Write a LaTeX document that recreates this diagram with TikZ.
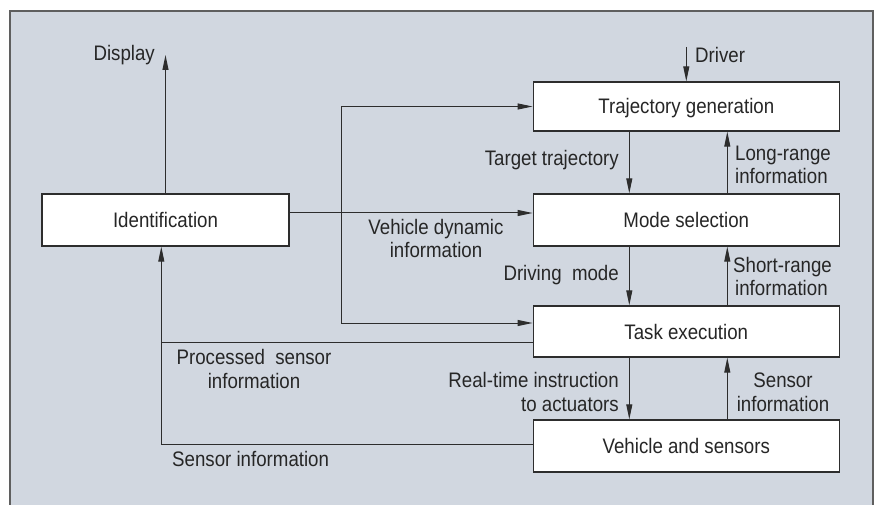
\documentclass[tikz,border=0pt]{standalone}
\usepackage{fontspec}
\setmainfont{Liberation Sans}[FakeStretch=0.89]
\usetikzlibrary{arrows.meta}
\definecolor{bg}{RGB}{209,215,224}
\definecolor{ln}{RGB}{45,45,45}
\definecolor{tx}{RGB}{38,38,38}
\definecolor{fr}{RGB}{95,95,95}
\begin{document}
\begin{tikzpicture}[x=1pt,y=-1pt,
  font=\fontsize{21}{23.4}\selectfont,
  box/.style={draw=ln, line width=1.4pt, fill=white, minimum width=306pt,
    minimum height=51pt, inner sep=0pt, text=tx, text height=15pt, text depth=0pt},
  lbl/.style={inner sep=0pt, text=tx},
  conn/.style={draw=ln, line width=1pt},
  arr/.style={conn, -{Triangle[length=15pt,width=6pt]}}]
\useasboundingbox (0,0) rectangle (876,505);
\fill[white] (0,0) rectangle (876,505);
\fill[bg] (10,11) rectangle (873,506);
\draw[fr, line width=1.3pt] (10,506) -- (10,11) -- (873,11) -- (873,506);

% boxes
\node[box, minimum width=247pt, minimum height=52pt] (ident) at (165.5,220) {Identification};
\node[box, minimum height=49pt] (traj) at (686.3,106.5) {Trajectory generation};
\node[box, minimum height=52pt] (mode) at (686.3,220) {Mode selection};
\node[box, minimum height=51pt] (task) at (686.3,331.5) {Task execution};
\node[box, minimum height=52pt] (veh) at (686.3,446) {Vehicle and sensors};

% free ends
\coordinate (disp) at (165.5,55);
\coordinate (drv) at (686.3,47);
\coordinate (br) at (341.3,213);
\coordinate (pc) at (161.3,342.7);

% connectors
\draw[arr] (ident.north) -- (disp);
\draw[arr] (drv) -- (traj.north);
\draw[arr] ([xshift=-57pt]traj.south) -- ([xshift=-57pt]mode.north);
\draw[arr] ([xshift=41pt]mode.north) -- ([xshift=41pt]traj.south);
\draw[arr] ([xshift=-57pt]mode.south) -- ([xshift=-57pt]task.north);
\draw[arr] ([xshift=41pt]task.north) -- ([xshift=41pt]mode.south);
\draw[arr] ([xshift=-57pt]task.south) -- ([xshift=-57pt]veh.north);
\draw[arr] ([xshift=41pt]veh.north) -- ([xshift=41pt]task.south);
\draw[arr] ([yshift=7pt]ident.east) -- ([yshift=7pt]mode.west);
\draw[arr] (br) |- (traj.west);
\draw[arr] (br) |- ([yshift=8.5pt]task.west);
\draw[conn] ([yshift=-11.2pt]task.west) -- (pc);
\draw[arr] ([yshift=1.3pt]veh.west) -| ([xshift=-4.2pt]ident.south);

% labels (base anchor = baseline of last line)
\node[lbl, anchor=base east] (lDisplay) at (155,61) {Display};
\node[lbl, anchor=base west] (lDriver) at (695,63) {Driver};
\node[lbl, anchor=base east] (lTarget) at (619,166) {Target trajectory};
\node[lbl, anchor=base west, align=left] (lLong) at (735,184) {Long-range\\information};
\node[lbl, anchor=base, align=center] (lVdi) at (436,257.7) {Vehicle dynamic\\information};
\node[lbl, anchor=base east] (lDm) at (619,281) {Driving\ \ mode};
\node[lbl, anchor=base west, align=left] (lShort) at (733,295.7) {Short-range\\\hspace{2pt}information};
\node[lbl, anchor=base east, align=right] (lRt) at (619,411) {Real-time instruction\\to actuators};
\node[lbl, anchor=base, align=center] (lSi) at (783,411) {Sensor\\information};
\node[lbl, anchor=base, align=center] (lPsi) at (254,388.3) {Processed\ \ sensor\\information};
\node[lbl, anchor=base west] (lSi2) at (172,466.7) {Sensor information};
\end{tikzpicture}
\end{document}
